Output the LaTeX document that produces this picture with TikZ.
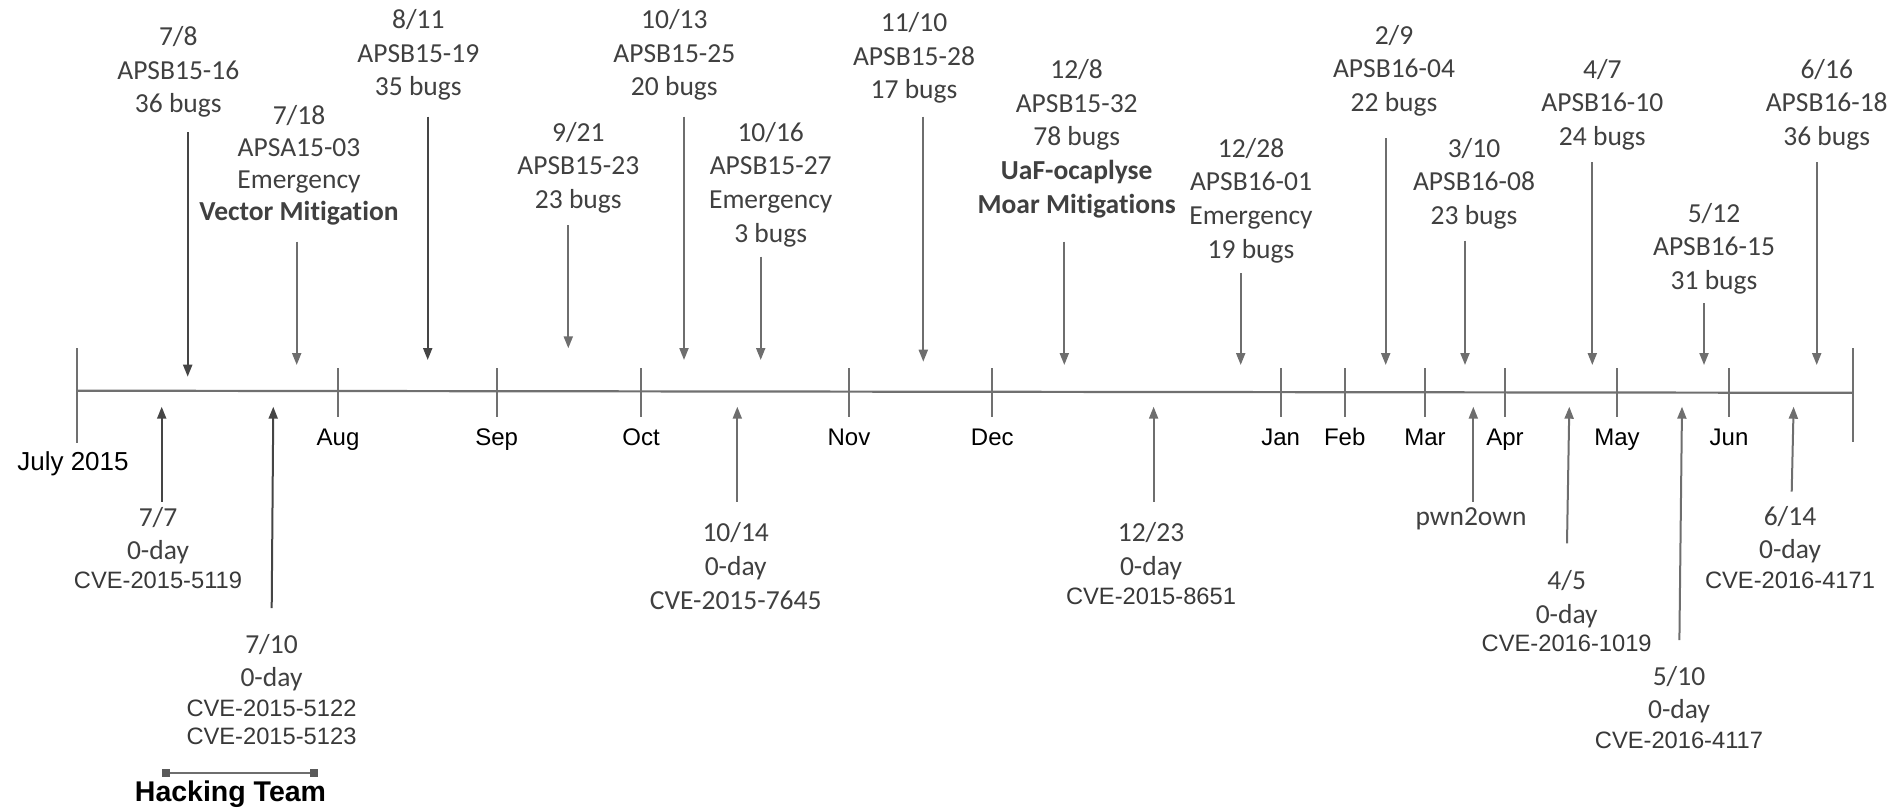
\documentclass[tikz,border=0pt]{standalone}
\usepackage{fontspec}
\setmainfont{Carlito}[Ligatures={NoCommon}]
\newfontfamily\arialfont{Liberation Sans}
\usetikzlibrary{arrows.meta}

\definecolor{txt}{HTML}{404040}
\definecolor{cvetxt}{HTML}{383838}
\definecolor{arrowdark}{HTML}{454545}
\definecolor{arrowmid}{HTML}{6E6E6E}
\definecolor{axisgray}{HTML}{707070}
\definecolor{capgray}{HTML}{5A5A5A}

% centred stack of lines; the box baseline is the first line's baseline
\newcommand\stk[1]{\vtop{\halign{\hfil##\hfil\cr#1\crcr}}}
% Arial line inside a stack
\newcommand\arl[1]{{\arialfont\fontsize{23.7}{28}\selectfont\color{cvetxt}#1}}
% pull the next stack line up
\newcommand\nudge[1]{\noalign{\vskip-#1pt}}

\tikzset{
  lbl/.style={anchor=base, inner sep=0pt, text=txt, font={\fontsize{27.5}{33.7}\selectfont}},
  lbltight/.style={lbl, font={\fontsize{27.5}{32}\selectfont}},
  month/.style={anchor=base, inner sep=0pt, text=black, font={\arialfont\fontsize{24}{28}\selectfont}},
  axisline/.style={draw=axisgray, line width=2.2pt},
  tickline/.style={draw=axisgray, line width=2pt},
  arrmid/.style={draw=arrowmid, line width=2pt, -{Triangle[length=12pt,width=9pt]}},
  arrdark/.style={draw=arrowdark, line width=2pt, -{Triangle[length=12pt,width=9pt]}},
  capbox/.style={fill=capgray, minimum size=8pt, inner sep=0pt},
}

\begin{document}
\begin{tikzpicture}[x=1pt, y=-1pt]
\useasboundingbox (0,0) rectangle (1893,807);

% ---------------- time axis ----------------
\coordinate (axL) at (77,390.7);
\coordinate (axR) at (1853,392.8);
\draw[axisline] (axL) -- (axR);
\draw[tickline] (77,348) -- (77,443);
\draw[tickline] (1853,348) -- (1853,442);

\foreach \mx/\mname/\mtxt in {338/aug/Aug, 496.7/sep/Sep, 641/oct/Oct, 849/nov/Nov,
    992.3/dec/Dec, 1280.7/jan/Jan, 1344.7/feb/Feb, 1425/mar/Mar, 1505/apr/Apr,
    1617/may/May, 1729/jun/Jun}{
  \draw[tickline] (\mx,368) -- (\mx,417);
  \node[month] (m\mname) at (\mx,445.7) {\mtxt};
}
\node[month, font={\arialfont\fontsize{26}{30}\selectfont}] (start) at (73,470) {July 2015};

% ---------------- releases (above the axis) ----------------
\node[lbl] (r0708) at (178.3,45.5) {\stk{7/8\cr APSB15-16\cr 36 bugs}};
\node[lbltight] (r0718) at (299,124) {\stk{7/18\cr APSA15-03\cr Emergency\cr \textbf{Vector Mitigation}}};
\node[lbl] (r0811) at (418.3,28.5) {\stk{8/11\cr APSB15-19\cr 35 bugs}};
\node[lbl] (r0921) at (578.3,141) {\stk{9/21\cr APSB15-23\cr 23 bugs}};
\node[lbl] (r1013) at (674.3,28.5) {\stk{10/13\cr APSB15-25\cr 20 bugs}};
\node[lbl] (r1016) at (770.7,141) {\stk{10/16\cr APSB15-27\cr Emergency\cr 3 bugs}};
\node[lbl] (r1110) at (914,31.5) {\stk{11/10\cr APSB15-28\cr 17 bugs}};
\node[lbl] (r1208) at (1076.7,78.3) {\stk{12/8\cr APSB15-32\cr 78 bugs\cr \textbf{UaF-ocaplyse}\cr \textbf{Moar Mitigations}}};
\node[lbl] (r1228) at (1251,157) {\stk{12/28\cr APSB16-01\cr Emergency\cr 19 bugs}};
\node[lbl] (r0209) at (1394,44) {\stk{2/9\cr APSB16-04\cr 22 bugs}};
\node[lbl] (r0310) at (1474,157) {\stk{3/10\cr APSB16-08\cr 23 bugs}};
\node[lbl] (r0407) at (1602.3,78) {\stk{4/7\cr APSB16-10\cr 24 bugs}};
\node[lbl] (r0512) at (1714,222) {\stk{5/12\cr APSB16-15\cr 31 bugs}};
\node[lbl] (r0616) at (1826.7,78) {\stk{6/16\cr APSB16-18\cr 36 bugs}};

\foreach \nm/\ax/\ys/\ye/\st in {r0708/187.7/132.3/376.7/arrdark, r0718/296.7/241.7/365/arrmid,
    r0811/427.7/116.7/360/arrdark, r0921/568.3/225/348.3/arrmid, r1013/684/116.7/360/arrmid,
    r1016/760.7/256.7/360/arrmid, r1110/923.3/116.7/361.7/arrmid, r1208/1064.3/241.7/365/arrmid,
    r1228/1240.7/273.3/365/arrmid, r0209/1385.7/138.3/365/arrmid, r0310/1465/240.7/365/arrmid,
    r0407/1592.3/162.3/365/arrmid, r0512/1704/303.3/365/arrmid, r0616/1816.7/162.3/365/arrmid}{
  \coordinate (\nm s) at (\ax,\ys);
  \coordinate (\nm e) at (\ax,\ye);
  \draw[\st] (\nm s) -- (\nm e);
}

% ---------------- 0-days (below the axis) ----------------
\node[lbl] (z0707) at (158,526) {\stk{7/7\cr 0-day\cr\nudge{4.7}\arl{CVE-2015-5119}}};
\node[lbl] (z0710) at (271.5,653) {\stk{7/10\cr 0-day\cr\nudge{3.7}\arl{CVE-2015-5122}\cr\nudge{5.7}\arl{CVE-2015-5123}}};
\node[lbl] (z1014) at (735.7,541.7) {\stk{10/14\cr 0-day\cr CVE-2015-7645}};
\node[lbl] (z1223) at (1151,541.7) {\stk{12/23\cr 0-day\cr\nudge{5.1}\arl{CVE-2015-8651}}};
\node[lbl] (zpwn) at (1471,525) {pwn2own};
\node[lbl] (z0405) at (1566.7,589.3) {\stk{4/5\cr 0-day\cr\nudge{5}\arl{CVE-2016-1019}}};
\node[lbl] (z0510) at (1679,685) {\stk{5/10\cr 0-day\cr\nudge{4.1}\arl{CVE-2016-4117}}};
\node[lbl] (z0614) at (1790,525) {\stk{6/14\cr 0-day\cr\nudge{4.1}\arl{CVE-2016-4171}}};

\foreach \nm/\xs/\ys/\xe/\st in {z0707/161.7/501.7/161.7/arrdark, z0710/271.7/608/273.3/arrdark,
    z1014/737.3/501.7/737.3/arrmid, z1223/1153.6/501.7/1153.6/arrmid,
    zpwn/1473.3/501.7/1473.3/arrmid, z0405/1567/543.3/1569.3/arrmid,
    z0510/1679.4/640/1682/arrmid, z0614/1791.7/491.7/1793.6/arrmid}{
  \coordinate (\nm s) at (\xs,\ys);
  \coordinate (\nm e) at (\xe,406.7);
  \draw[\st] (\nm s) -- (\nm e);
}

% ---------------- Hacking Team span ----------------
\node[capbox] (htL) at (166,772.5) {};
\node[capbox] (htR) at (314,772.5) {};
\draw[draw=arrowmid, line width=2pt] (htL) -- (htR);
\node[anchor=base, inner sep=0pt, font={\arialfont\bfseries\fontsize{28.5}{32}\selectfont}] (ht) at (230.5,801.7) {Hacking Team};

\end{tikzpicture}
\end{document}
